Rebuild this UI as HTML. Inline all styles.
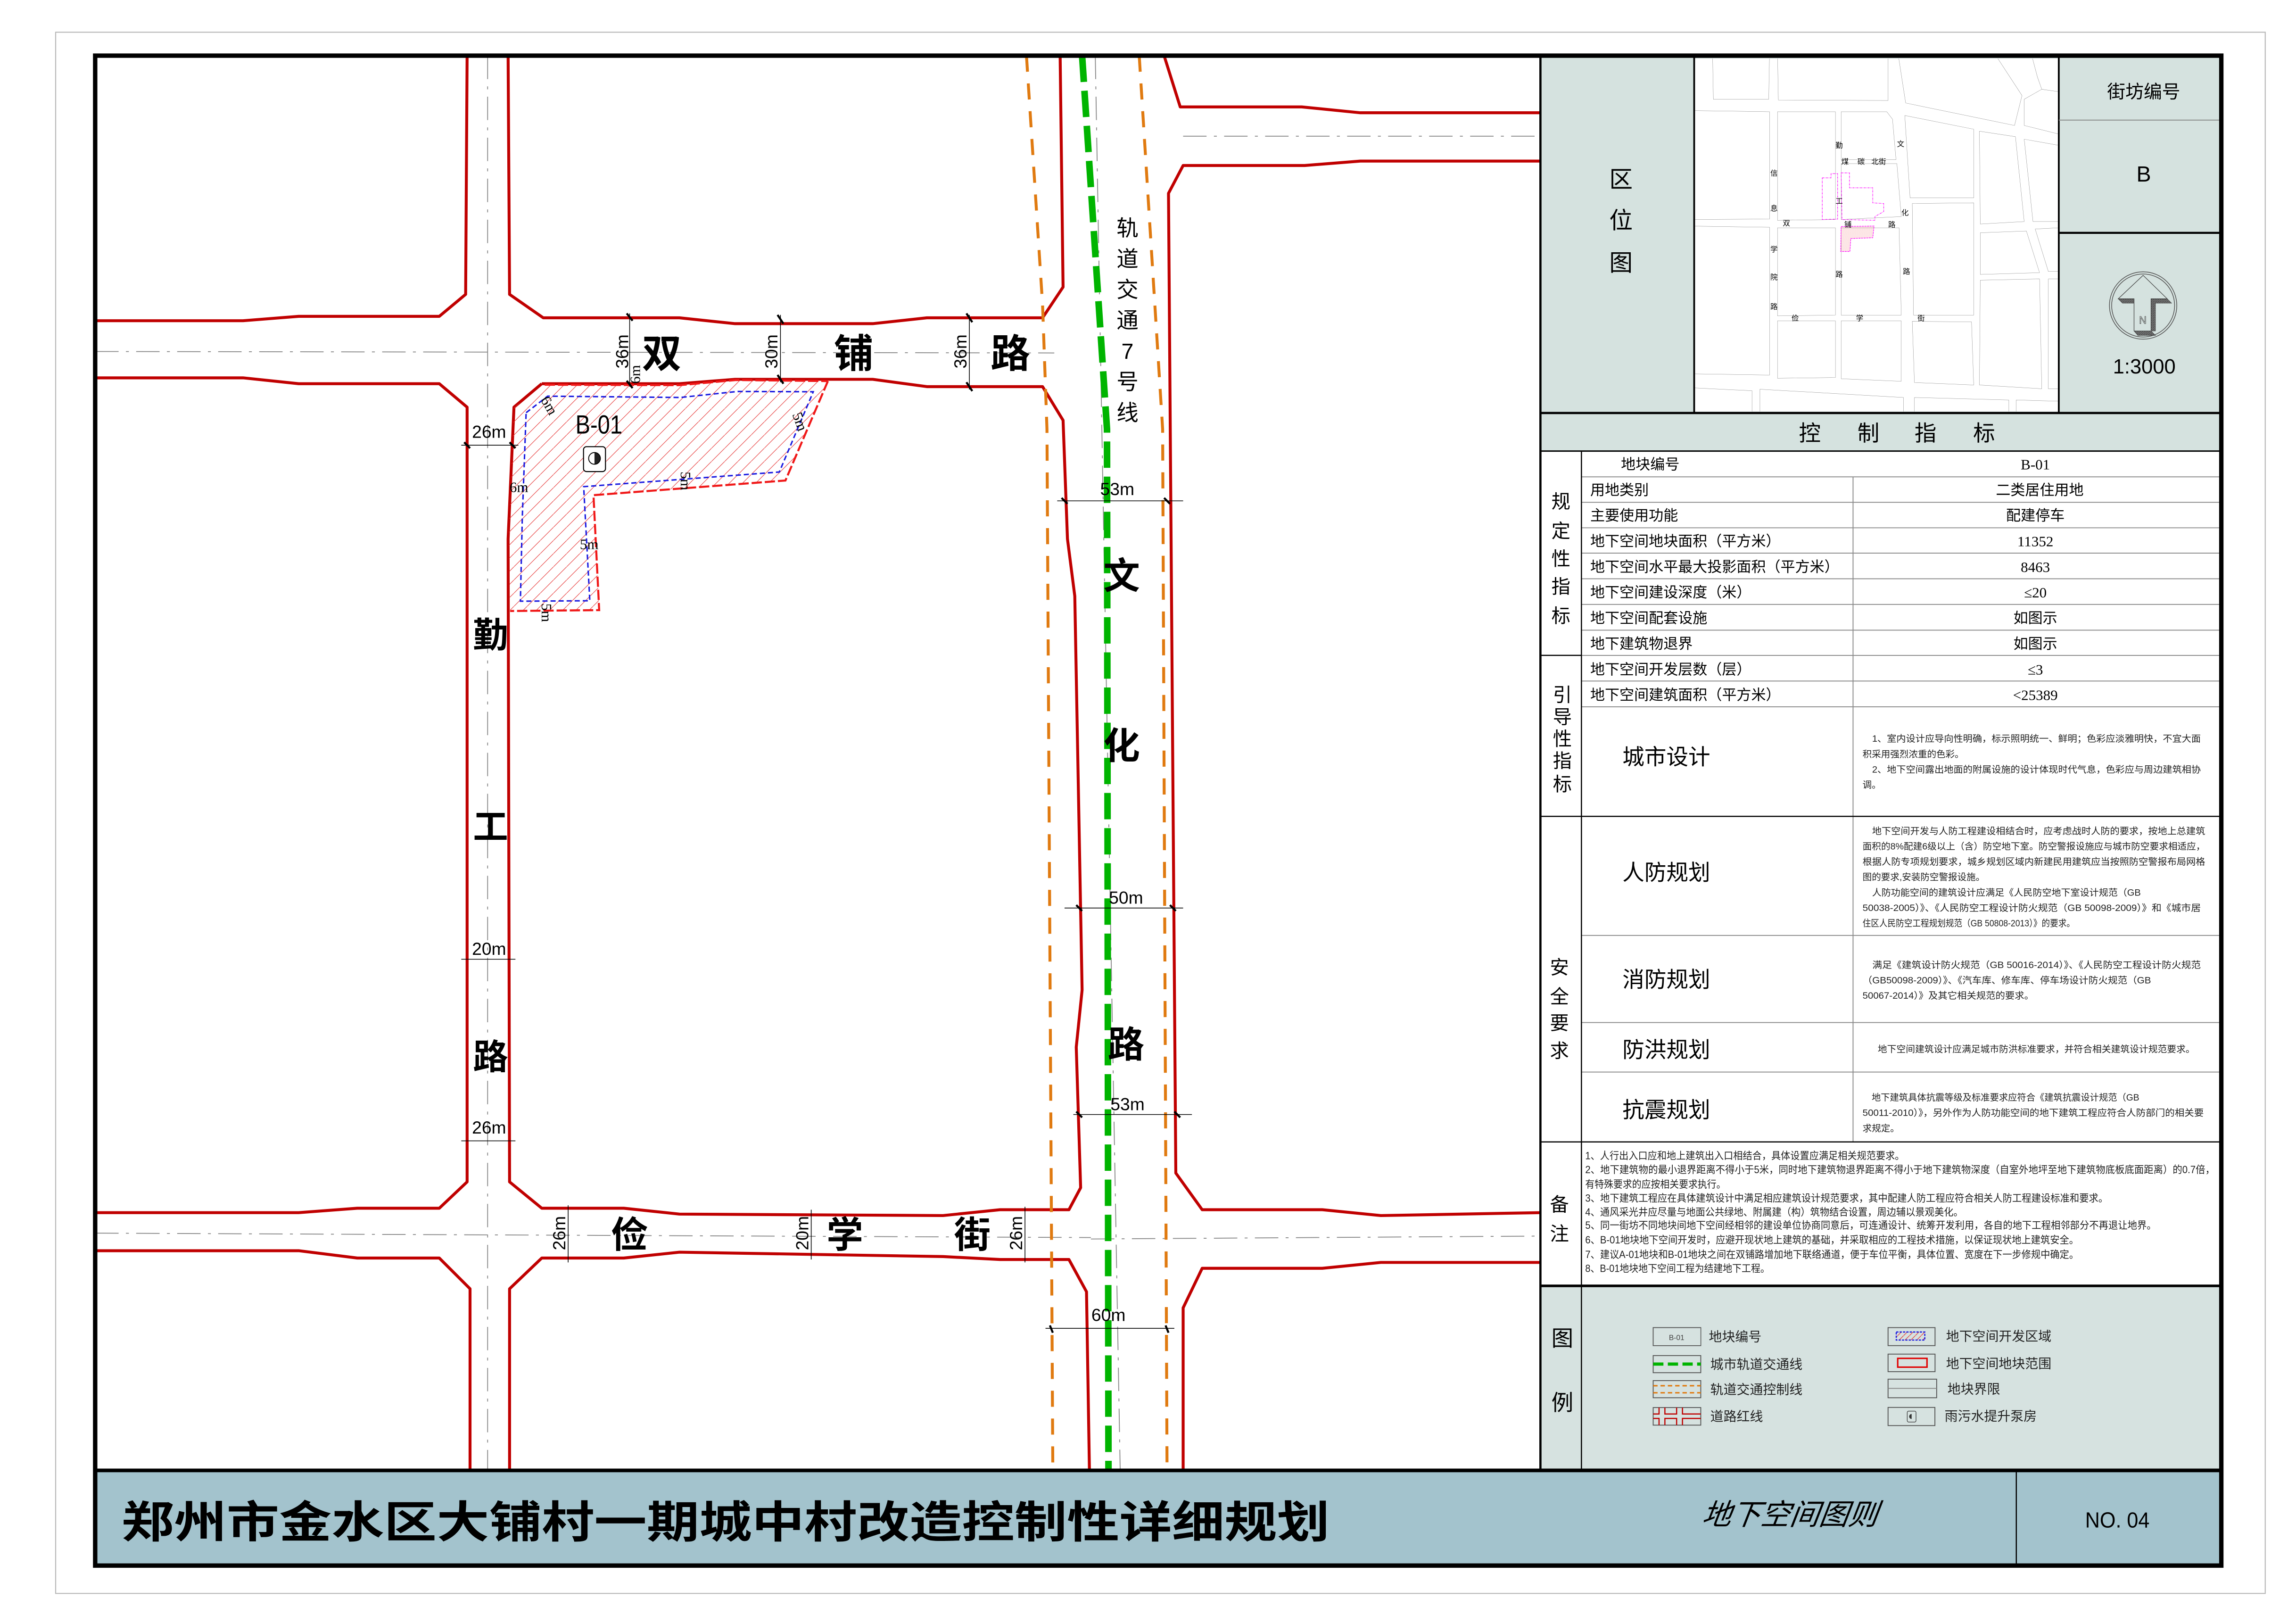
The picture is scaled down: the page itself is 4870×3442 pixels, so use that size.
<!DOCTYPE html>
<html><head><meta charset="utf-8"><style>
html,body{margin:0;padding:0;background:#fff}
svg{display:block}
text{font-family:"Liberation Sans","Noto Sans CJK SC",sans-serif}
.sf{font-family:"Liberation Serif","Noto Serif CJK SC",serif}
</style></head><body>
<svg width="4870" height="3442" viewBox="0 0 1568 1108.2" preserveAspectRatio="none" xmlns="http://www.w3.org/2000/svg">
<defs>
<pattern id="h" patternUnits="userSpaceOnUse" width="9" height="9"><line x1="-1" y1="10" x2="10" y2="-1" stroke="#e53030" stroke-width="0.35"/></pattern>
<pattern id="h2" patternUnits="userSpaceOnUse" width="4" height="4"><line x1="0" y1="4" x2="4" y2="0" stroke="#e53030" stroke-width="0.4"/></pattern>
<pattern id="dk" patternUnits="userSpaceOnUse" width="1.2" height="1.2"><rect width="1.2" height="1.2" fill="#888"/><line x1="0" y1="1.2" x2="1.2" y2="0" stroke="#333" stroke-width="0.4"/></pattern>
<clipPath id="loc"><rect x="1157" y="40" width="249" height="241"/></clipPath>
</defs>
<rect width="1568" height="1108.2" fill="#fff"/>
<rect x="38" y="22" width="1509" height="1066" fill="none" stroke="#b8b8b8" stroke-width="0.7"/>

<!-- MAP -->
<g fill="none" stroke-linejoin="round">
<!-- centerlines -->
<g stroke="#8a8a8a" stroke-width="0.6" stroke-dasharray="16 5 2 5">
<line x1="65" y1="240" x2="720" y2="241"/>
<line x1="65" y1="842" x2="745" y2="845"/>
<line x1="745" y1="846" x2="1052" y2="844"/>
<line x1="808" y1="93" x2="1052" y2="93"/>
<line x1="333" y1="38" x2="333" y2="1004"/>
<line x1="748" y1="38" x2="765" y2="1004"/>
</g>
<!-- roads -->
<g stroke="#c00000" stroke-width="1.3">
<polyline points="319,38 318,201 300,216 204,216 166,219 65,219" stroke-width="2"/>
<polyline points="347,38 348,201 371,217 464,217 502,221 596,221 633,217 712,217 726,196 724,38" stroke-width="2"/>
<polyline points="65,258 166,258 204,262 300,262 319,278 319,807 300,825 244,825 204,828 65,828" stroke-width="2"/>
<polyline points="370,262 351,278 347,368 348,807 370,825 426,825 464,829 644,830 683,826 730,826 738,811 735,715 739,676 734,407 729,368 726,287 712,264 633,264 596,259 502,259 464,262 370,262" stroke-width="2"/>
<polyline points="795,38 806,73 889,73 929,77 1052,77" stroke-width="2"/>
<polyline points="1052,110 929,110 891,113 808,113 798,132 803,801 821,826 903,826 943,830 1052,828" stroke-width="2"/>
<polyline points="65,854 204,854 244,859 300,859 321,880 321,1004" stroke-width="2"/>
<polyline points="348,1004 348,880 370,859 426,859 464,855 644,858 683,860 730,860 742,882 744,1004" stroke-width="2"/>
<polyline points="1052,862 943,862 903,866 821,866 808,893 808,1004" stroke-width="2"/>
</g>
<!-- rail -->
<polyline points="701,38 712,208 715,293 719,1004" stroke="#e07a10" stroke-width="2" stroke-dasharray="11 8"/>
<polyline points="778,38 794,293 797,1004" stroke="#e07a10" stroke-width="2" stroke-dasharray="11 8"/>
<polyline points="739,38 756,293 757,1004" stroke="#00b400" stroke-width="4.5" stroke-dasharray="18 6"/>
</g>

<!-- parcel -->
<polygon points="348.4,417.2 409.2,416.6 405.3,338.1 536.4,328.1 565.4,260.2 502.6,259.5 464,263 372,262.7 351,278 347.4,368" fill="url(#h)" stroke="none"/>
<polyline points="565.4,260.2 536.4,328.1 405.3,338.1 409.2,416.6 348.4,417.2" fill="none" stroke="#f01818" stroke-width="1.4" stroke-dasharray="7 2"/>
<polyline points="372,262.7 464,263 502.6,259.5 565.4,260.2" fill="none" stroke="#f01818" stroke-width="1.4" stroke-dasharray="7 2"/>
<polygon points="359.3,281.8 374,270.5 464.6,271.4 503.5,267.3 555.4,267.5 532.2,322.3 398.6,332.3 402.8,410.2 355.4,410.5 356.7,353" fill="none" stroke="#1a1ae0" stroke-width="1" stroke-dasharray="3.5 2"/>
<text x="409" y="296" font-size="18" text-anchor="middle" textLength="32" lengthAdjust="spacingAndGlyphs">B-01</text>
<rect x="398.5" y="305" width="15" height="17" rx="2" fill="#fff" stroke="#000" stroke-width="0.7"/>
<path d="M406,309 a4,4 0 0 1 0,8 z" fill="#222"/><circle cx="406" cy="313" r="4" fill="none" stroke="#000" stroke-width="0.6"/>
<g font-size="10" class="sf" fill="#000">
<text x="369" y="273" transform="rotate(60 369 273)" class="sf">6m</text>
<text x="437" y="262" transform="rotate(-90 437 262)" class="sf">6m</text>
<text x="348" y="336" class="sf">6m</text>
<text x="396" y="375" class="sf">5m</text>
<text x="370" y="412" transform="rotate(90 370 412)" class="sf">5m</text>
<text x="465" y="322" transform="rotate(90 465 322)" class="sf">5m</text>
<text x="541" y="283" transform="rotate(70 541 283)" class="sf">5m</text>
</g>

<!-- dimension lines -->
<g stroke="#000" stroke-width="0.5">
<line x1="430" y1="214" x2="430" y2="264"/><line x1="533" y1="215" x2="533" y2="261"/><line x1="662" y1="215" x2="662" y2="266"/>
<line x1="388" y1="823" x2="388" y2="862"/><line x1="554" y1="826" x2="554" y2="860"/><line x1="700" y1="824" x2="700" y2="862"/>
<line x1="315" y1="304" x2="354" y2="304"/><line x1="315" y1="655" x2="352" y2="655"/><line x1="315" y1="779" x2="352" y2="779"/>
<line x1="722" y1="342" x2="808" y2="342"/><line x1="727" y1="620" x2="808" y2="620"/><line x1="733" y1="761" x2="814" y2="761"/><line x1="714" y1="907" x2="802" y2="907"/>
</g>
<g stroke="#000" stroke-width="1.4">
<line x1="428" y1="214" x2="432" y2="219"/><line x1="428" y1="260" x2="432" y2="265"/>
<line x1="531" y1="215" x2="535" y2="221"/><line x1="531" y1="256" x2="535" y2="262"/>
<line x1="660" y1="214" x2="664" y2="220"/><line x1="660" y1="261" x2="664" y2="267"/>
<line x1="317" y1="302" x2="321" y2="306"/><line x1="348" y1="302" x2="352" y2="306"/>
<line x1="725" y1="340" x2="729" y2="344"/><line x1="795" y1="340" x2="799" y2="344"/>
<line x1="735" y1="618" x2="739" y2="622"/><line x1="799" y1="618" x2="803" y2="622"/>
<line x1="735" y1="759" x2="739" y2="763"/><line x1="802" y1="759" x2="806" y2="763"/>
<line x1="717" y1="905" x2="719" y2="910"/><line x1="796" y1="905" x2="798" y2="910"/>
</g>
<g class="sf" font-size="12" fill="#000" text-anchor="middle">
<text x="425" y="240" transform="rotate(-90 425 240)" dy="4">36m</text>
<text x="527" y="240" transform="rotate(-90 527 240)" dy="4">30m</text>
<text x="656" y="240" transform="rotate(-90 656 240)" dy="4">36m</text>
<text x="382" y="842" transform="rotate(-90 382 842)" dy="4">26m</text>
<text x="548" y="842" transform="rotate(-90 548 842)" dy="4">20m</text>
<text x="694" y="842" transform="rotate(-90 694 842)" dy="4">26m</text>
<text x="334" y="299">26m</text><text x="334" y="652">20m</text><text x="334" y="774">26m</text>
<text x="763" y="338">53m</text><text x="769" y="617">50m</text><text x="770" y="758">53m</text><text x="757" y="902">60m</text>
</g>
<g font-size="27" fill="#000" text-anchor="middle" font-weight="bold">
<text x="452" y="251">双</text><text x="583" y="251">铺</text><text x="690" y="251">路</text>
<text x="335" y="442" font-size="24">勤</text><text x="335" y="573" font-size="24">工</text><text x="335" y="730" font-size="24">路</text>
<text x="766" y="402" font-size="25">文</text><text x="766" y="518" font-size="25">化</text><text x="769" y="722" font-size="25">路</text>
<text x="430" y="852" font-size="25">俭</text><text x="577" y="852" font-size="25">学</text><text x="664" y="852" font-size="25">街</text>
</g>
<g font-size="15" fill="#000" text-anchor="middle">
<text x="770" y="161">轨</text><text x="770" y="182">道</text><text x="770" y="203">交</text><text x="770" y="224">通</text><text x="770" y="245">7</text><text x="770" y="266">号</text><text x="770" y="287">线</text>
</g>

<!-- RIGHT PANEL backgrounds -->
<rect x="1052" y="38" width="465" height="270" fill="#d5e2df"/>
<rect x="1157" y="40" width="249" height="241" fill="#fff"/>
<rect x="1052" y="308" width="465" height="570" fill="#fff"/>
<rect x="1052" y="878" width="465" height="126" fill="#d6e2e0"/>
<rect x="65" y="1004" width="1452" height="65" fill="#a3c3cd"/>

<!-- locator map -->
<g clip-path="url(#loc)">
<g transform="translate(1049.6,35.4) scale(0.2998,0.1704)" fill="#fff" stroke="#777" stroke-width="0.5" vector-effect="non-scaling-stroke">
<g stroke-width="0.5">
<polygon vector-effect="non-scaling-stroke" points="400,0 530,0 528,190 402,190"/>
<polygon vector-effect="non-scaling-stroke" points="548,0 800,0 800,195 550,193"/>
<polygon vector-effect="non-scaling-stroke" points="822,0 1040,0 1105,175 1088,295 840,205"/>
<polygon vector-effect="non-scaling-stroke" points="1125,0 1187,0 1187,160 1150,150 1140,100"/>
<polygon vector-effect="non-scaling-stroke" points="1110,190 1150,150 1190,160 1190,330 1110,295"/>
<polygon vector-effect="non-scaling-stroke" points="340,235 530,240 530,670 340,672"/>
<polygon vector-effect="non-scaling-stroke" points="548,240 680,240 680,672 548,675"/>
<polygon vector-effect="non-scaling-stroke" points="693,240 797,240 810,270 818,432 693,432"/>
<polygon vector-effect="non-scaling-stroke" points="693,448 820,448 830,660 693,672"/>
<polygon vector-effect="non-scaling-stroke" points="838,255 995,310 995,585 850,585"/>
<polygon vector-effect="non-scaling-stroke" points="1008,318 1090,340 1110,680 1010,690"/>
<polygon vector-effect="non-scaling-stroke" points="1110,350 1190,375 1190,680 1130,680"/>
<polygon vector-effect="non-scaling-stroke" points="855,608 995,605 995,1055 858,1055"/>
<polygon vector-effect="non-scaling-stroke" points="340,698 530,703 530,1295 340,1290"/>
<polygon vector-effect="non-scaling-stroke" points="548,705 680,705 680,1055 548,1058"/>
<polygon vector-effect="non-scaling-stroke" points="693,705 825,705 830,1055 693,1055"/>
<polygon vector-effect="non-scaling-stroke" points="1010,725 1115,718 1145,885 1010,892"/>
<polygon vector-effect="non-scaling-stroke" points="1135,710 1190,705 1190,880 1165,880"/>
<polygon vector-effect="non-scaling-stroke" points="1010,915 1145,910 1150,1350 1008,1335"/>
<polygon vector-effect="non-scaling-stroke" points="1165,910 1190,910 1190,1350 1165,1350"/>
<polygon vector-effect="non-scaling-stroke" points="548,1078 680,1078 680,1305 548,1308"/>
<polygon vector-effect="non-scaling-stroke" points="693,1078 830,1078 830,1320 693,1310"/>
<polygon vector-effect="non-scaling-stroke" points="855,1080 990,1082 995,1335 860,1325"/>
<polygon vector-effect="non-scaling-stroke" points="340,1345 490,1358 490,1460 340,1460"/>
<polygon vector-effect="non-scaling-stroke" points="508,1352 835,1385 835,1460 508,1460"/>
<polygon vector-effect="non-scaling-stroke" points="860,1385 1075,1395 1075,1460 860,1460"/>
<polygon vector-effect="non-scaling-stroke" points="1092,1395 1190,1400 1190,1460 1092,1460"/>
</g>
<polygon vector-effect="non-scaling-stroke" points="693,700 768,698 765,745 715,748 713,800 692,800" fill="url(#h2)" stroke="#ff00ff" stroke-width="1.2" stroke-dasharray="4 1.5"/>
<polygon vector-effect="non-scaling-stroke" points="650,505 670,505 670,488 685,488 685,670 650,672" fill="none" stroke="#ff00ff" stroke-width="1.2" stroke-dasharray="4 1.5 1 1.5"/>
<polygon vector-effect="non-scaling-stroke" points="693,485 712,485 712,545 765,545 765,605 790,608 790,640 770,660 770,675 695,672" fill="none" stroke="#ff00ff" stroke-width="1.2" stroke-dasharray="4 1.5 1 1.5"/>
</g>
</g>
<g font-size="5" fill="#000" text-anchor="middle">
<text x="1256" y="101">勤</text><text x="1298" y="100">文</text>
<text x="1260" y="112">煤</text><text x="1271" y="112">碳</text><text x="1283" y="112">北街</text>
<text x="1211.5" y="120">信</text><text x="1211.5" y="144">息</text><text x="1256" y="139">工</text><text x="1301" y="147">化</text>
<text x="1220" y="154">双</text><text x="1262" y="155">铺</text><text x="1292" y="155">路</text>
<text x="1211.5" y="172">学</text><text x="1211.5" y="191">院</text><text x="1211.5" y="211">路</text><text x="1256" y="189">路</text><text x="1302" y="187">路</text>
<text x="1226" y="219">俭</text><text x="1270" y="219">学</text><text x="1312" y="219">街</text>
</g>

<!-- panel text top -->
<g font-size="16" text-anchor="middle" fill="#000">
<text x="1107" y="128">区</text><text x="1107" y="156">位</text><text x="1107" y="185">图</text>
</g>
<text x="1464" y="67" font-size="12.5" text-anchor="middle">街坊编号</text>
<text x="1464" y="124" font-size="15" text-anchor="middle">B</text>
<circle cx="1463.6" cy="208.6" r="23" fill="none" stroke="#555" stroke-width="0.5"/>
<circle cx="1463.6" cy="208.6" r="21.5" fill="none" stroke="#555" stroke-width="0.5"/>
<polygon points="1469,204 1480,204 1483,207 1472,207 1472,226 1469,226" fill="url(#dk)" stroke="#444" stroke-width="0.3"/>
<polygon points="1446.6,204 1457.4,204 1457.4,226 1460,229 1472,229 1469,226 1460,226 1460,207 1449.5,207" fill="url(#dk)" stroke="#444" stroke-width="0.3"/>
<polygon points="1463.6,188 1480,204 1469,204 1469,226 1457.4,226 1457.4,204 1446.6,204" fill="#d5e2df" stroke="#444" stroke-width="0.4"/>
<text x="1463.4" y="221" font-size="7" text-anchor="middle" fill="none" stroke="#555" stroke-width="0.3">N</text>
<text x="1464.4" y="255" font-size="14" text-anchor="middle">1:3000</text>
<g font-size="15" text-anchor="middle"><text x="1236" y="301">控</text><text x="1276" y="301">制</text><text x="1315" y="301">指</text><text x="1355" y="301">标</text></g>

<!-- table lines -->
<g stroke="#888" stroke-width="0.6">
<line x1="1080" y1="325.6" x2="1517" y2="325.6"/><line x1="1080" y1="343" x2="1517" y2="343"/><line x1="1080" y1="360.4" x2="1517" y2="360.4"/>
<line x1="1080" y1="377.7" x2="1517" y2="377.7"/><line x1="1080" y1="395.2" x2="1517" y2="395.2"/><line x1="1080" y1="412.7" x2="1517" y2="412.7"/>
<line x1="1080" y1="430.3" x2="1517" y2="430.3"/><line x1="1080" y1="447.5" x2="1517" y2="447.5"/><line x1="1080" y1="465" x2="1517" y2="465"/>
<line x1="1080" y1="482.6" x2="1517" y2="482.6"/>
<line x1="1080" y1="638.7" x2="1517" y2="638.7"/><line x1="1080" y1="698.2" x2="1517" y2="698.2"/><line x1="1080" y1="732" x2="1517" y2="732"/>
<line x1="1265.5" y1="325.6" x2="1265.5" y2="779.7"/>
</g>
<g stroke="#000" stroke-width="0.8">
<line x1="1080" y1="308" x2="1080" y2="1004"/>
<line x1="1052" y1="447.5" x2="1080" y2="447.5"/>
<line x1="1052" y1="557.4" x2="1517" y2="557.4"/>
<line x1="1052" y1="779.7" x2="1517" y2="779.7"/>
</g>
<g stroke="#000" fill="none">
<line x1="1052" y1="38" x2="1052" y2="1004" stroke-width="1.5"/>
<line x1="1157" y1="38" x2="1157" y2="282" stroke-width="1.2"/>
<line x1="1406" y1="38" x2="1406" y2="282" stroke-width="1.2"/>
<line x1="1406" y1="82" x2="1517" y2="82" stroke="#888" stroke-width="0.6"/>
<line x1="1406" y1="159" x2="1517" y2="159" stroke-width="1.4"/>
<line x1="1052" y1="282" x2="1517" y2="282" stroke-width="1.5"/>
<line x1="1052" y1="308" x2="1517" y2="308" stroke-width="1"/>
<line x1="1052" y1="878" x2="1517" y2="878" stroke-width="1.8"/>
<line x1="1377" y1="1004" x2="1377" y2="1069" stroke-width="0.8"/>
<rect x="65" y="38" width="1452" height="1031" stroke-width="3"/>
<line x1="65" y1="1004" x2="1517" y2="1004" stroke-width="2.5"/>
</g>

<!-- table text -->
<g font-size="10" fill="#000">
<text x="1107" y="320.5">地块编号</text>
<text x="1086" y="338">用地类别</text><text x="1086" y="355.5">主要使用功能</text>
<text x="1086" y="373">地下空间地块面积（平方米）</text><text x="1086" y="390.5">地下空间水平最大投影面积（平方米）</text>
<text x="1086" y="408">地下空间建设深度（米）</text><text x="1086" y="425.5">地下空间配套设施</text>
<text x="1086" y="443">地下建筑物退界</text><text x="1086" y="460.5">地下空间开发层数（层）</text>
<text x="1086" y="478">地下空间建筑面积（平方米）</text>
</g>
<g font-size="10" fill="#000" text-anchor="middle" class="sf">
<text x="1390" y="320.5" class="sf">B-01</text><text x="1393" y="338">二类居住用地</text><text x="1390" y="355.5">配建停车</text>
<text x="1390" y="373" class="sf">11352</text><text x="1390" y="390.5" class="sf">8463</text><text x="1390" y="408" class="sf">≤20</text>
<text x="1390" y="425.5">如图示</text><text x="1390" y="443">如图示</text><text x="1390" y="460.5" class="sf">≤3</text><text x="1390" y="478" class="sf">&lt;25389</text>
</g>
<g font-size="13" fill="#000" text-anchor="middle">
<text x="1066" y="347">规</text><text x="1066" y="367">定</text><text x="1066" y="386">性</text><text x="1066" y="405">指</text><text x="1066" y="425">标</text>
<text x="1067" y="479">引</text><text x="1067" y="494">导</text><text x="1067" y="509">性</text><text x="1067" y="524">指</text><text x="1067" y="540">标</text>
<text x="1065" y="665">安</text><text x="1065" y="685">全</text><text x="1065" y="703">要</text><text x="1065" y="722">求</text>
<text x="1065" y="827">备</text><text x="1065" y="847">注</text>
<text x="1067" y="919" font-size="15">图</text><text x="1067" y="963" font-size="15">例</text>
</g>
<g font-size="15" fill="#000" text-anchor="middle">
<text x="1138" y="522">城市设计</text><text x="1138" y="601">人防规划</text><text x="1138" y="674">消防规划</text>
<text x="1138" y="722">防洪规划</text><text x="1138" y="763">抗震规划</text>
</g>
<g font-size="6.3" fill="#222">
<text x="1272" y="506.5" textLength="231" lengthAdjust="spacingAndGlyphs">　1、室内设计应导向性明确，标示照明统一、鲜明；色彩应淡雅明快，不宜大面</text>
<text x="1272" y="517">积采用强烈浓重的色彩。</text>
<text x="1272" y="527.5" textLength="231" lengthAdjust="spacingAndGlyphs">　2、地下空间露出地面的附属设施的设计体现时代气息，色彩应与周边建筑相协</text>
<text x="1272" y="538">调。</text>
<text x="1272" y="569.5" textLength="234" lengthAdjust="spacingAndGlyphs">　地下空间开发与人防工程建设相结合时，应考虑战时人防的要求，按地上总建筑</text>
<text x="1272" y="580" textLength="234" lengthAdjust="spacingAndGlyphs">面积的8%配建6级以上（含）防空地下室。防空警报设施应与城市防空要求相适应，</text>
<text x="1272" y="590.5" textLength="234" lengthAdjust="spacingAndGlyphs">根据人防专项规划要求，城乡规划区域内新建民用建筑应当按照防空警报布局网格</text>
<text x="1272" y="601">图的要求,安装防空警报设施。</text>
<text x="1272" y="611.5" textLength="190" lengthAdjust="spacingAndGlyphs">　人防功能空间的建筑设计应满足《人民防空地下室设计规范（GB</text>
<text x="1272" y="622" textLength="231" lengthAdjust="spacingAndGlyphs">50038-2005）》、《人民防空工程设计防火规范（GB 50098-2009）》和《城市居</text>
<text x="1272" y="632.5" textLength="145" lengthAdjust="spacingAndGlyphs">住区人民防空工程规划规范（GB 50808-2013）》的要求。</text>
<text x="1272" y="661" textLength="231" lengthAdjust="spacingAndGlyphs">　满足《建筑设计防火规范（GB 50016-2014）》、《人民防空工程设计防火规范</text>
<text x="1272" y="671.5" textLength="197" lengthAdjust="spacingAndGlyphs">（GB50098-2009）》、《汽车库、修车库、停车场设计防火规范（GB</text>
<text x="1272" y="682" textLength="117" lengthAdjust="spacingAndGlyphs">50067-2014）》及其它相关规范的要求。</text>
<text x="1276" y="718.5" textLength="223" lengthAdjust="spacingAndGlyphs">　地下空间建筑设计应满足城市防洪标准要求，并符合相关建筑设计规范要求。</text>
<text x="1272" y="751.5" textLength="189" lengthAdjust="spacingAndGlyphs">　地下建筑具体抗震等级及标准要求应符合《建筑抗震设计规范（GB</text>
<text x="1272" y="762" textLength="233" lengthAdjust="spacingAndGlyphs">50011-2010）》，另外作为人防功能空间的地下建筑工程应符合人防部门的相关要</text>
<text x="1272" y="772.5">求规定。</text>
</g>
<g font-size="7" fill="#222">
<text x="1082.6" y="791.5" textLength="218" lengthAdjust="spacingAndGlyphs">1、人行出入口应和地上建筑出入口相结合，具体设置应满足相关规范要求。</text>
<text x="1082.6" y="801" textLength="430" lengthAdjust="spacingAndGlyphs">2、地下建筑物的最小退界距离不得小于5米，同时地下建筑物退界距离不得小于地下建筑物深度（自室外地坪至地下建筑物底板底面距离）的0.7倍，</text>
<text x="1082.6" y="811" textLength="96" lengthAdjust="spacingAndGlyphs">有特殊要求的应按相关要求执行。</text>
<text x="1082.6" y="820.5" textLength="357" lengthAdjust="spacingAndGlyphs">3、地下建筑工程应在具体建筑设计中满足相应建筑设计规范要求，其中配建人防工程应符合相关人防工程建设标准和要求。</text>
<text x="1082.6" y="830" textLength="258" lengthAdjust="spacingAndGlyphs">4、通风采光井应尽量与地面公共绿地、附属建（构）筑物结合设置，周边辅以景观美化。</text>
<text x="1082.6" y="839" textLength="390" lengthAdjust="spacingAndGlyphs">5、同一街坊不同地块间地下空间经相邻的建设单位协商同意后，可连通设计、统筹开发利用，各自的地下工程相邻部分不再退让地界。</text>
<text x="1082.6" y="849" textLength="337" lengthAdjust="spacingAndGlyphs">6、B-01地块地下空间开发时，应避开现状地上建筑的基础，并采取相应的工程技术措施，以保证现状地上建筑安全。</text>
<text x="1082.6" y="859" textLength="337" lengthAdjust="spacingAndGlyphs">7、建议A-01地块和B-01地块之间在双铺路增加地下联络通道，便于车位平衡，具体位置、宽度在下一步修规中确定。</text>
<text x="1082.6" y="868.5" textLength="126" lengthAdjust="spacingAndGlyphs">8、B-01地块地下空间工程为结建地下工程。</text>
</g>

<!-- legend -->
<g stroke="#555" stroke-width="0.6" fill="none">
<rect x="1129" y="906.5" width="32.5" height="12.3"/>
<rect x="1129" y="925.6" width="32.5" height="11.7"/>
<rect x="1129" y="942.7" width="32.5" height="11.7"/>
<rect x="1129" y="961.1" width="32.5" height="12"/>
<rect x="1289.4" y="906.5" width="32.1" height="12.3"/>
<rect x="1289.4" y="924.6" width="32.1" height="12"/>
<rect x="1289.4" y="941.7" width="33.2" height="12.7"/>
<rect x="1289.4" y="961" width="32" height="12.4"/>
</g>
<rect x="1129.3" y="906.8" width="32" height="11.7" fill="#d6e2e0"/>
<text x="1145" y="915" font-size="5" text-anchor="middle" fill="#444">B-01</text>
<line x1="1129" y1="931.4" x2="1161.5" y2="931.4" stroke="#00b400" stroke-width="2.2" stroke-dasharray="7 3"/>
<line x1="1129" y1="946.2" x2="1161.5" y2="946.2" stroke="#e07a10" stroke-width="1" stroke-dasharray="3 2"/>
<line x1="1129" y1="951" x2="1161.5" y2="951" stroke="#e07a10" stroke-width="1" stroke-dasharray="3 2"/>
<g stroke="#c00000" stroke-width="0.8" fill="none">
<path d="M1129,965.5 H1133 V961.1 M1129,968.5 H1133 V973 M1137,961.1 V965.5 H1145 V961.1 M1137,973 V968.5 H1145 V973 M1149,961.1 V965.5 H1161.5 M1149,973 V968.5 H1161.5"/>
</g>
<rect x="1295" y="909.5" width="19.5" height="5.5" fill="url(#h2)" stroke="#1a1ae0" stroke-width="0.8" stroke-dasharray="1.5 0.8"/>
<rect x="1296" y="927.5" width="20" height="6" fill="none" stroke="#e00000" stroke-width="1"/>
<line x1="1289.4" y1="948" x2="1322.6" y2="948" stroke="#888" stroke-width="0.6"/>
<rect x="1302.5" y="963.5" width="6" height="7.5" rx="1" fill="none" stroke="#333" stroke-width="0.4"/>
<path d="M1305.5,965.5 a1.7,1.7 0 0 0 0,3.4 z" fill="#333"/>
<g font-size="9" fill="#222">
<text x="1167" y="915.8">地块编号</text><text x="1168" y="934.6">城市轨道交通线</text>
<text x="1168" y="951.9">轨道交通控制线</text><text x="1168" y="970.2">道路红线</text>
<text x="1329" y="915.5">地下空间开发区域</text><text x="1329" y="934.2">地下空间地块范围</text>
<text x="1330" y="951.5">地块界限</text><text x="1328" y="970">雨污水提升泵房</text>
</g>

<!-- title -->
<text x="83" y="1050" font-size="30" font-weight="bold" textLength="825" lengthAdjust="spacingAndGlyphs" fill="#000">郑州市金水区大铺村一期城中村改造控制性详细规划</text>
<text x="1222" y="1041" font-size="20" font-style="italic" text-anchor="middle" fill="#000" transform="skewX(-8) translate(146,0)">地下空间图则</text>
<text x="1446" y="1043" font-size="15" text-anchor="middle" textLength="44" lengthAdjust="spacingAndGlyphs">NO. 04</text>
</svg>
</body></html>
